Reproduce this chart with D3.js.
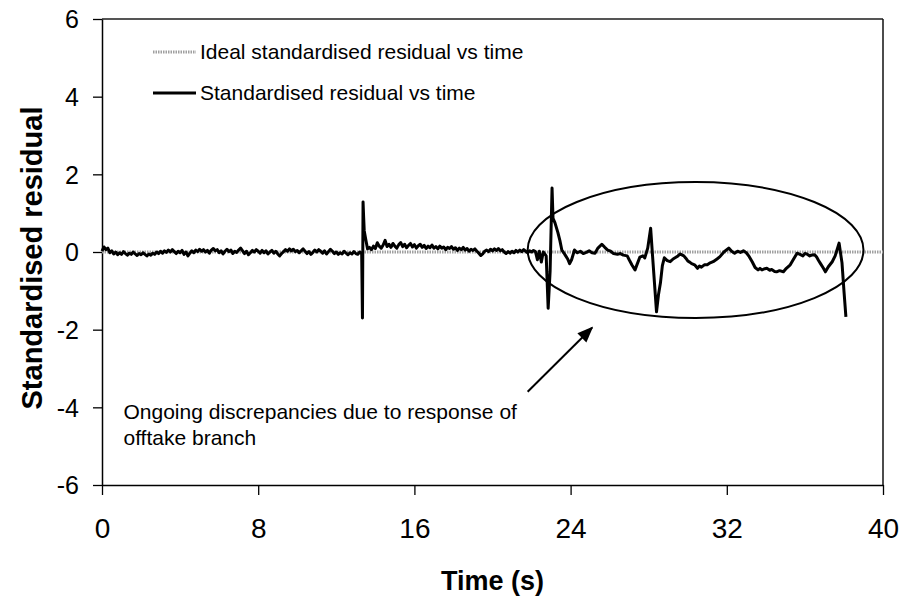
<!DOCTYPE html>
<html>
<head>
<meta charset="utf-8">
<script src="https://cdn.jsdelivr.net/npm/d3@7"></script>
<style>
  body { margin: 0; background: #fff; }
  text { font-family: "Liberation Sans", Arial, sans-serif; fill: #000; }
</style>
</head>
<body>
<div id="chart"></div>
<script>
// DATA: [time (s), standardised residual]
const quietPhase = [
  [0.0, 0.02], [0.1, 0.13], [0.2, 0.06], [0.3, 0.1], [0.4, -0.02], [0.5, 0.03], [0.6, -0.05], [0.7, 0.0], [0.8, -0.07], [0.9, -0.02],
  [1.0, -0.06], [1.1, 0.01], [1.2, -0.04], [1.3, -0.08], [1.4, -0.03], [1.5, -0.06], [1.6, 0.0], [1.7, -0.05], [1.8, -0.09], [1.9, -0.04],
  [2.0, -0.07], [2.1, -0.02], [2.2, -0.06], [2.3, -0.1], [2.4, -0.05], [2.5, -0.08], [2.6, -0.03], [2.7, -0.06], [2.8, 0.0], [2.9, -0.04],
  [3.0, 0.02], [3.1, -0.03], [3.2, 0.03], [3.3, -0.01], [3.4, 0.05], [3.5, 0.0], [3.6, 0.06], [3.7, 0.01], [3.8, -0.04], [3.9, 0.02],
  [4.0, -0.02], [4.1, 0.04], [4.2, -0.06], [4.3, 0.0], [4.4, -0.1], [4.5, -0.03], [4.6, 0.03], [4.7, -0.02], [4.8, 0.05], [4.9, 0.01],
  [5.0, 0.07], [5.1, 0.02], [5.2, 0.06], [5.3, 0.0], [5.4, 0.04], [5.5, -0.03], [5.6, 0.05], [5.7, 0.09], [5.8, 0.03], [5.9, 0.06],
  [6.0, -0.02], [6.1, 0.03], [6.2, -0.05], [6.3, 0.02], [6.4, 0.07], [6.5, 0.01], [6.6, 0.05], [6.7, -0.04], [6.8, 0.02], [6.9, -0.01],
  [7.0, 0.05], [7.1, 0.1], [7.2, 0.03], [7.3, -0.04], [7.4, 0.02], [7.5, -0.07], [7.6, -0.02], [7.7, 0.04], [7.8, 0.0], [7.9, 0.06],
  [8.0, 0.02], [8.1, -0.03], [8.2, 0.04], [8.3, -0.02], [8.4, 0.03], [8.5, -0.05], [8.6, 0.0], [8.7, 0.04], [8.8, -0.03], [8.9, 0.02],
  [9.0, -0.05], [9.1, -0.1], [9.2, -0.04], [9.3, 0.01], [9.4, 0.06], [9.5, 0.02], [9.6, 0.08], [9.7, 0.03], [9.8, 0.07], [9.9, 0.01],
  [10.0, 0.04], [10.1, -0.02], [10.2, 0.03], [10.3, 0.08], [10.4, 0.02], [10.5, -0.04], [10.6, 0.01], [10.7, -0.06], [10.8, -0.01], [10.9, 0.05],
  [11.0, 0.0], [11.1, 0.06], [11.2, 0.02], [11.3, -0.03], [11.4, 0.03], [11.5, -0.05], [11.6, 0.01], [11.7, 0.07], [11.8, 0.02], [11.9, -0.04],
  [12.0, 0.0], [12.1, -0.06], [12.2, -0.02], [12.3, -0.05], [12.4, 0.02], [12.5, -0.03], [12.6, -0.07], [12.7, -0.02], [12.8, -0.05], [12.9, 0.01],
  [13.0, -0.04], [13.1, -0.06], [13.2, 0.0], [13.3, -0.05]
];

const firstTransient = [
  [13.34, -1.70], [13.37, 1.29], [13.40, 0.9], [13.43, 0.55], [13.5, 0.35], [13.6, 0.08], [13.7, 0.12], [13.8, 0.06], [13.9, 0.15],
  [14.0, 0.09], [14.1, 0.24], [14.2, 0.15], [14.3, 0.1], [14.4, 0.18], [14.5, 0.3], [14.6, 0.14], [14.7, 0.2], [14.8, 0.12], [14.9, 0.22],
  [15.0, 0.15], [15.1, 0.1], [15.2, 0.19], [15.3, 0.24], [15.4, 0.14], [15.5, 0.2], [15.6, 0.11], [15.7, 0.17], [15.8, 0.22], [15.9, 0.13],
  [16.0, 0.19], [16.1, 0.1], [16.2, 0.16], [16.3, 0.2], [16.4, 0.12], [16.5, 0.17], [16.6, 0.09], [16.7, 0.15], [16.8, 0.11], [16.9, 0.18],
  [17.0, 0.1], [17.1, 0.14], [17.2, 0.08], [17.3, 0.15], [17.4, 0.1], [17.5, 0.13], [17.6, 0.06], [17.7, 0.12], [17.8, 0.09], [17.9, 0.14],
  [18.0, 0.07], [18.1, 0.11], [18.2, 0.04], [18.3, 0.1], [18.4, 0.06], [18.5, 0.12], [18.6, 0.05], [18.7, 0.09], [18.8, 0.02], [18.9, 0.07],
  [19.0, 0.04], [19.1, 0.08], [19.2, 0.02], [19.3, -0.03], [19.4, -0.09], [19.5, -0.05], [19.6, 0.02], [19.7, 0.05], [19.8, 0.01], [19.9, 0.07],
  [20.0, 0.03], [20.1, 0.08], [20.2, 0.04], [20.3, 0.09], [20.4, 0.03], [20.5, 0.06], [20.6, 0.0], [20.7, -0.04], [20.8, 0.01], [20.9, -0.03],
  [21.0, 0.02], [21.1, -0.02], [21.2, 0.04], [21.3, 0.0], [21.4, 0.05], [21.5, 0.01], [21.6, 0.06], [21.7, 0.02], [21.8, -0.02], [21.9, 0.03],
  [22.0, 0.0], [22.1, 0.04], [22.2, 0.01]
];

const offtakePhase = [
  [22.3, -0.2], [22.4, 0.02], [22.5, -0.26], [22.6, 0.0], [22.75, -0.1], [22.85, -1.45],
  [22.95, -0.5], [23.05, 1.65], [23.1, 0.87], [23.2, 0.75], [23.35, 0.5], [23.45, 0.3], [23.55, 0.05],
  [23.65, -0.02], [23.75, -0.1], [23.85, -0.18], [23.95, -0.3], [24.05, -0.2], [24.2, 0.05], [24.35, -0.02],
  [24.5, 0.02], [24.65, -0.04], [24.8, -0.01], [24.95, 0.03], [25.1, -0.02], [25.25, -0.03], [25.4, 0.1],
  [25.6, 0.2], [25.75, 0.12], [25.9, 0.05], [26.05, 0.02], [26.2, -0.04], [26.4, -0.06], [26.55, -0.04],
  [26.7, -0.08], [26.9, -0.1], [27.0, -0.2], [27.15, -0.34], [27.3, -0.46], [27.42, -0.3], [27.55, -0.13],
  [27.7, -0.1], [27.8, -0.15], [27.95, 0.1], [28.1, 0.61], [28.2, -0.12], [28.4, -1.54], [28.5, -1.1],
  [28.6, -0.8], [28.7, -0.35], [28.8, -0.15], [28.95, -0.22], [29.1, -0.25], [29.25, -0.18], [29.35, -0.15],
  [29.5, -0.1], [29.6, -0.05], [29.8, -0.1], [29.9, -0.16], [30.0, -0.23], [30.1, -0.26], [30.2, -0.3],
  [30.35, -0.33], [30.5, -0.42], [30.6, -0.36], [30.7, -0.39], [30.85, -0.33], [31.0, -0.33], [31.15, -0.28],
  [31.3, -0.25], [31.5, -0.18], [31.65, -0.12], [31.85, 0.0], [32.1, 0.1], [32.25, 0.02], [32.4, -0.03],
  [32.55, 0.02], [32.7, -0.01], [32.85, 0.03], [33.0, -0.02], [33.15, -0.12], [33.3, -0.25], [33.45, -0.4],
  [33.6, -0.46], [33.7, -0.42], [33.8, -0.46], [33.95, -0.43], [34.05, -0.42], [34.2, -0.47], [34.3, -0.45],
  [34.45, -0.5], [34.55, -0.51], [34.7, -0.48], [34.9, -0.51], [35.05, -0.42], [35.25, -0.33], [35.4, -0.2],
  [35.6, -0.03], [35.75, -0.06], [35.9, -0.1], [36.0, -0.04], [36.1, -0.05], [36.25, -0.1], [36.35, -0.08],
  [36.5, -0.07], [36.6, -0.13], [36.7, -0.22], [36.8, -0.3], [36.95, -0.42], [37.05, -0.51], [37.2, -0.38],
  [37.4, -0.25], [37.55, -0.1], [37.75, 0.23], [37.9, -0.28], [38.0, -1.0], [38.1, -1.67]
];

const xTicks = [0, 8, 16, 24, 32, 40];
const yTicks = [-6, -4, -2, 0, 2, 4, 6];
const legendLabels = ["Ideal standardised residual vs time", "Standardised residual vs time"];
const noteLines = ["Ongoing discrepancies due to response of", "offtake branch"];

const residual = quietPhase.concat(firstTransient, offtakePhase);

// layout
const W = 902, H = 596;
const margin = { top: 19, right: 19, bottom: 111, left: 102 };
const width = W - margin.left - margin.right;
const height = H - margin.top - margin.bottom;

const svg = d3.select("#chart").append("svg")
  .attr("width", W)
  .attr("height", H);

const g = svg.append("g")
  .attr("transform", `translate(${margin.left},${margin.top})`);

const x = d3.scaleLinear().domain([0, 40]).range([0, width]);
const y = d3.scaleLinear().domain([-6, 6]).range([height, 0]);

// plot frame: top edge grey, right edge black
g.append("line")
  .attr("x1", 0).attr("x2", width).attr("y1", 0).attr("y2", 0)
  .attr("stroke", "#555").attr("stroke-width", 2);
g.append("line")
  .attr("x1", width).attr("x2", width).attr("y1", 0).attr("y2", height)
  .attr("stroke", "#111").attr("stroke-width", 1.5);

// axes (plain hyphen for negatives, like the original)
const xAxis = g.append("g")
  .attr("transform", `translate(0,${height})`)
  .call(d3.axisBottom(x).tickValues(xTicks).tickFormat(d => String(d))
    .tickSize(10).tickPadding(23).tickSizeOuter(0));
const yAxis = g.append("g")
  .call(d3.axisLeft(y).tickValues(yTicks).tickFormat(d => String(d))
    .tickSize(9).tickPadding(14).tickSizeOuter(0));

[xAxis, yAxis].forEach(a => {
  a.select(".domain").attr("stroke", "#000").attr("stroke-width", 1.5);
  a.selectAll(".tick line").attr("stroke", "#000").attr("stroke-width", 1.3);
  a.selectAll("text").attr("font-family", "Liberation Sans, Arial, sans-serif").attr("fill", "#000");
});
xAxis.selectAll("text").attr("font-size", 28);
yAxis.selectAll("text").attr("font-size", 25).attr("dy", "0.35em");

// ideal residual (zero line)
g.append("line")
  .attr("x1", x(0)).attr("x2", x(40))
  .attr("y1", y(0)).attr("y2", y(0))
  .attr("stroke", "#a0a0a0").attr("stroke-width", 3)
  .attr("stroke-dasharray", "1.5,1");

// measured residual
const line = d3.line()
  .x(d => x(d[0]))
  .y(d => y(d[1]));

g.append("path")
  .datum(residual)
  .attr("fill", "none")
  .attr("stroke", "#000")
  .attr("stroke-width", 3)
  .attr("stroke-linejoin", "round")
  .attr("d", line);

// ellipse around the offtake region
g.append("ellipse")
  .attr("cx", x(30.4)).attr("cy", y(0.05))
  .attr("rx", x(8.6) - x(0)).attr("ry", y(0) - y(1.75))
  .attr("fill", "none").attr("stroke", "#000").attr("stroke-width", 2);

// arrow
svg.append("defs").append("marker")
  .attr("id", "arrow")
  .attr("viewBox", "0 0 10 10")
  .attr("refX", 9).attr("refY", 5)
  .attr("markerWidth", 8).attr("markerHeight", 8)
  .attr("orient", "auto")
  .append("path")
  .attr("d", "M0,1 L10,5 L0,9 Z")
  .attr("fill", "#000");

g.append("line")
  .attr("x1", x(21.8)).attr("y1", y(-3.6))
  .attr("x2", x(25.1)).attr("y2", y(-1.95))
  .attr("stroke", "#000").attr("stroke-width", 2)
  .attr("marker-end", "url(#arrow)");

// annotation text
g.append("text")
  .attr("x", x(1.1)).attr("y", y(-4.3))
  .attr("font-size", 21)
  .selectAll("tspan")
  .data(noteLines)
  .join("tspan")
  .attr("x", x(1.1))
  .attr("dy", (d, i) => i === 0 ? 0 : 26)
  .text(d => d);

// legend
const legend = g.append("g").attr("transform", "translate(51,33)");
legendLabels.forEach((label, i) => {
  const row = legend.append("g").attr("transform", `translate(0,${i * 41})`);
  row.append("line")
    .attr("x1", 0).attr("x2", 43)
    .attr("stroke", i === 0 ? "#a0a0a0" : "#000")
    .attr("stroke-width", 3)
    .attr("stroke-dasharray", i === 0 ? "1.5,1" : null);
  row.append("text")
    .attr("x", 47).attr("dy", "0.35em")
    .attr("font-size", 21)
    .text(label);
});

// axis titles
svg.append("text")
  .attr("x", margin.left + width / 2).attr("y", 590)
  .attr("text-anchor", "middle")
  .attr("font-size", 27).attr("font-weight", "bold")
  .text("Time (s)");

svg.append("text")
  .attr("transform", `translate(42,${margin.top + height / 2 + 6}) rotate(-90)`)
  .attr("text-anchor", "middle")
  .attr("font-size", 29).attr("font-weight", "bold")
  .text("Standardised residual");
</script>
</body>
</html>
